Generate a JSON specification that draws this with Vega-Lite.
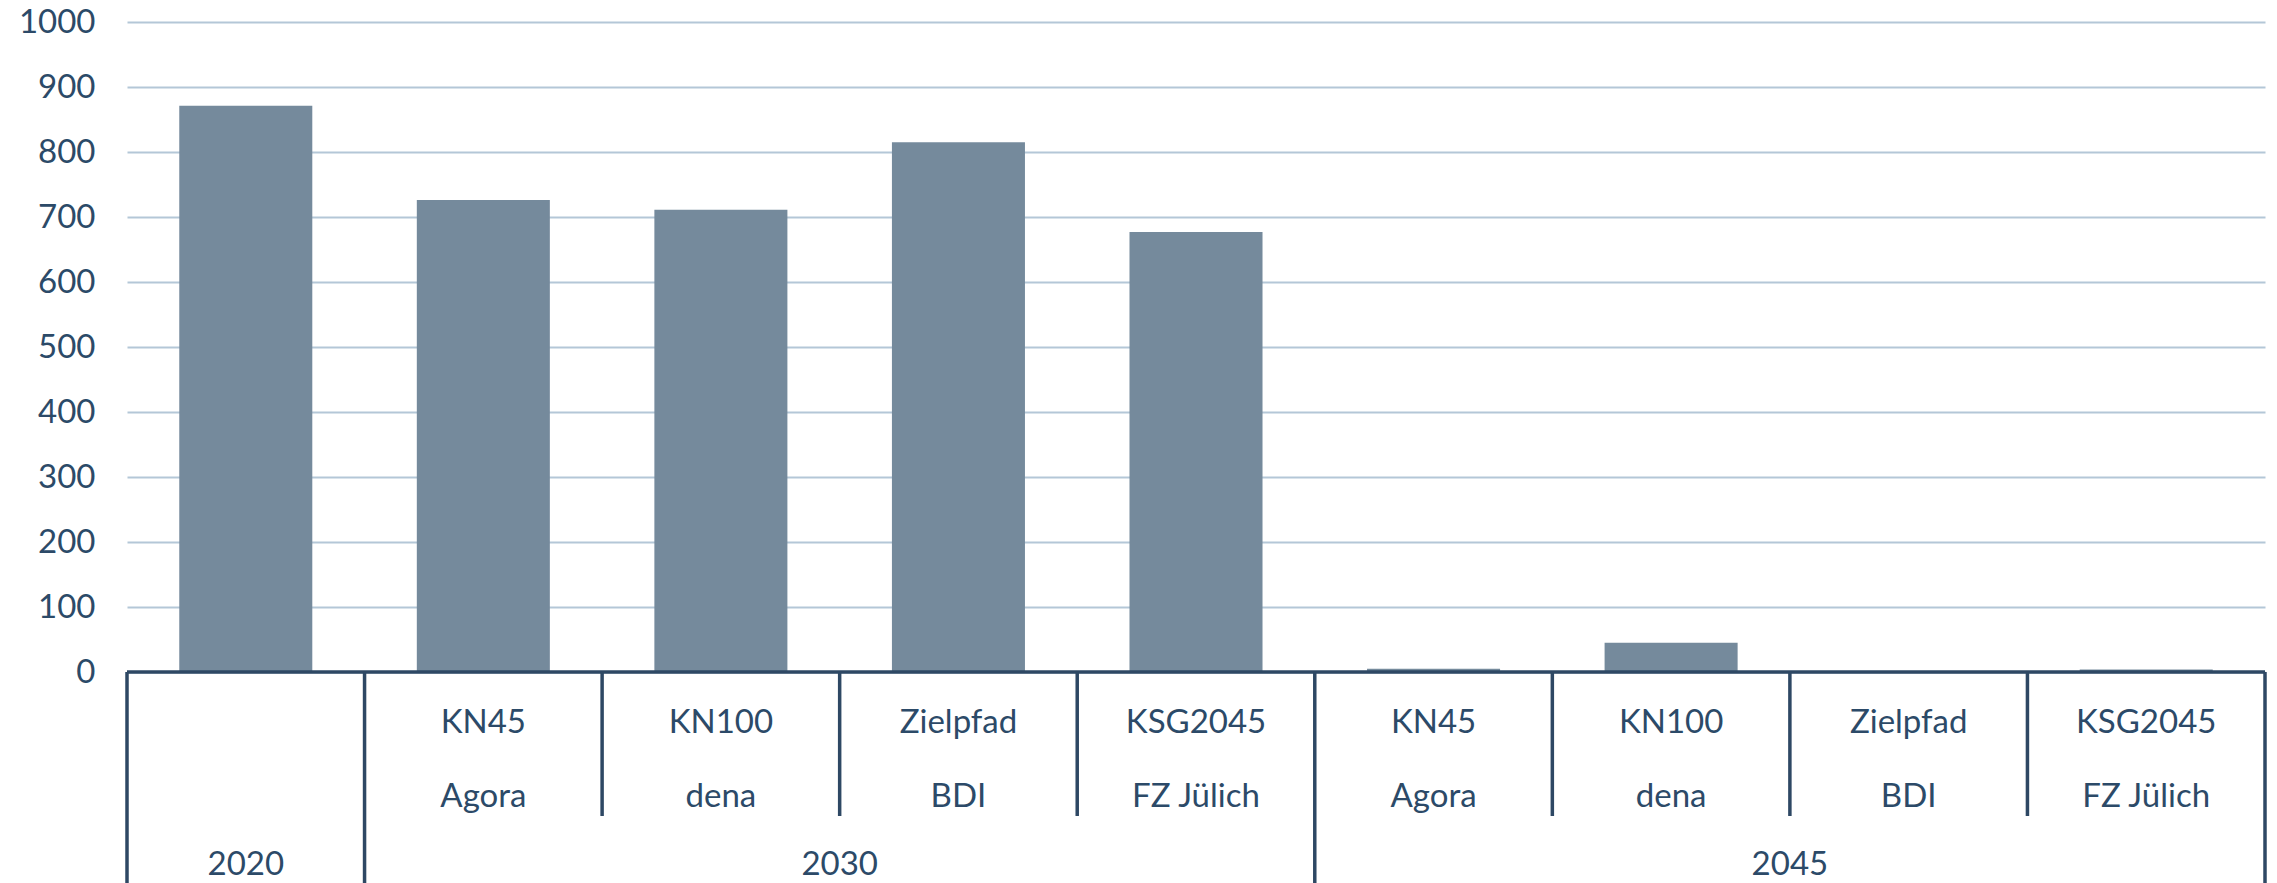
{
  "$schema": "https://vega.github.io/schema/vega-lite/v6.json",
  "autosize": {"type": "none"},
  "padding": {"left": 127, "top": 22, "right": 12, "bottom": 0},
  "width": 2138,
  "height": 861,
  "background": "white",
  "config": {
    "view": {"stroke": null},
    "font": "Lato",
    "text": {"font": "Lato", "fontSize": 33, "color": "#2C4A68", "baseline": "middle", "align": "center"}
  },
  "datasets": {
    "main": [
      {"cat": "c1", "scenario": "", "source": "", "year": "2020", "value": 871},
      {"cat": "c2", "scenario": "KN45", "source": "Agora", "year": "2030", "value": 726},
      {"cat": "c3", "scenario": "KN100", "source": "dena", "year": "2030", "value": 711},
      {"cat": "c4", "scenario": "Zielpfad", "source": "BDI", "year": "2030", "value": 815},
      {"cat": "c5", "scenario": "KSG2045", "source": "FZ Jülich", "year": "2030", "value": 677},
      {"cat": "c6", "scenario": "KN45", "source": "Agora", "year": "2045", "value": 5},
      {"cat": "c7", "scenario": "KN100", "source": "dena", "year": "2045", "value": 45},
      {"cat": "c8", "scenario": "Zielpfad", "source": "BDI", "year": "2045", "value": 0},
      {"cat": "c9", "scenario": "KSG2045", "source": "FZ Jülich", "year": "2045", "value": 4}
    ],
    "groups": [
      {"year": "2030", "midcat": "c4"},
      {"year": "2045", "midcat": "c8"}
    ],
    "separators": [
      {"cat": "c1", "level": "outer"},
      {"cat": "c2", "level": "outer"},
      {"cat": "c3", "level": "inner"},
      {"cat": "c4", "level": "inner"},
      {"cat": "c5", "level": "inner"},
      {"cat": "c6", "level": "outer"},
      {"cat": "c7", "level": "inner"},
      {"cat": "c8", "level": "inner"},
      {"cat": "c9", "level": "inner"}
    ]
  },
  "resolve": {"scale": {"x": "independent"}},
  "layer": [
    {
      "data": {"name": "main"},
      "mark": {"type": "bar", "color": "#758A9C"},
      "encoding": {
        "x": {"field": "cat", "type": "nominal", "axis": null,
              "scale": {"domain": ["c1","c2","c3","c4","c5","c6","c7","c8","c9"], "paddingInner": 0.44, "paddingOuter": 0.22}},
        "y": {"field": "value", "type": "quantitative",
              "scale": {"domain": [-324.6, 1000], "nice": false, "zero": false},
              "axis": {"title": null, "values": [0,100,200,300,400,500,600,700,800,900,1000], "format": "d",
                       "ticks": false, "domain": false, "labelFontSize": 33, "labelFont": "Lato",
                       "labelColor": "#2C4A68", "labelPadding": 32, "grid": true,
                       "gridColor": "#B4C7D7", "gridWidth": 2}}
      }
    },
    {
      "data": {"name": "main"},
      "mark": {"type": "text"},
      "encoding": {
        "x": {"field": "cat", "type": "nominal", "axis": null,
              "scale": {"domain": ["c1","c2","c3","c4","c5","c6","c7","c8","c9"], "paddingInner": 0.44, "paddingOuter": 0.22}},
        "y": {"datum": -78.5},
        "text": {"field": "scenario"}
      }
    },
    {
      "data": {"name": "main"},
      "mark": {"type": "text"},
      "encoding": {
        "x": {"field": "cat", "type": "nominal", "axis": null,
              "scale": {"domain": ["c1","c2","c3","c4","c5","c6","c7","c8","c9"], "paddingInner": 0.44, "paddingOuter": 0.22}},
        "y": {"datum": -192.3},
        "text": {"field": "source"}
      }
    },
    {
      "data": {"name": "main"},
      "transform": [{"filter": "datum.year === '2020'"}],
      "mark": {"type": "text"},
      "encoding": {
        "x": {"field": "cat", "type": "nominal", "axis": null,
              "scale": {"domain": ["c1","c2","c3","c4","c5","c6","c7","c8","c9"], "paddingInner": 0.44, "paddingOuter": 0.22}},
        "y": {"datum": -297},
        "text": {"field": "year"}
      }
    },
    {
      "data": {"name": "groups"},
      "mark": {"type": "text"},
      "encoding": {
        "x": {"field": "midcat", "type": "nominal", "axis": null, "bandPosition": 0,
              "scale": {"type": "band", "domain": ["c1","c2","c3","c4","c5","c6","c7","c8","c9"], "paddingInner": 0, "paddingOuter": 0}},
        "y": {"datum": -297},
        "text": {"field": "year"}
      }
    },
    {
      "data": {"name": "separators"},
      "transform": [{"filter": "datum.level === 'inner'"}],
      "mark": {"type": "rule", "color": "#2E4864", "strokeWidth": 3.5},
      "encoding": {
        "x": {"field": "cat", "type": "nominal", "axis": null, "bandPosition": 0,
              "scale": {"type": "band", "domain": ["c1","c2","c3","c4","c5","c6","c7","c8","c9"], "paddingInner": 0, "paddingOuter": 0}},
        "y": {"datum": 0},
        "y2": {"datum": -221.5}
      }
    },
    {
      "data": {"name": "separators"},
      "transform": [{"filter": "datum.level === 'outer'"}],
      "mark": {"type": "rule", "color": "#2E4864", "strokeWidth": 3.5},
      "encoding": {
        "x": {"field": "cat", "type": "nominal", "axis": null, "bandPosition": 0,
              "scale": {"type": "band", "domain": ["c1","c2","c3","c4","c5","c6","c7","c8","c9"], "paddingInner": 0, "paddingOuter": 0}},
        "y": {"datum": 0},
        "y2": {"datum": -324.6}
      }
    },
    {
      "data": {"name": "separators"},
      "transform": [{"filter": "datum.cat === 'c9'"}],
      "mark": {"type": "rule", "color": "#2E4864", "strokeWidth": 3.5},
      "encoding": {
        "x": {"field": "cat", "type": "nominal", "axis": null, "bandPosition": 1,
              "scale": {"type": "band", "domain": ["c1","c2","c3","c4","c5","c6","c7","c8","c9"], "paddingInner": 0, "paddingOuter": 0}},
        "y": {"datum": 0},
        "y2": {"datum": -324.6}
      }
    },
    {
      "data": {"values": [{}]},
      "mark": {"type": "rule", "color": "#2E4864", "strokeWidth": 3.5},
      "encoding": {
        "y": {"datum": 0}
      }
    }
  ]
}
